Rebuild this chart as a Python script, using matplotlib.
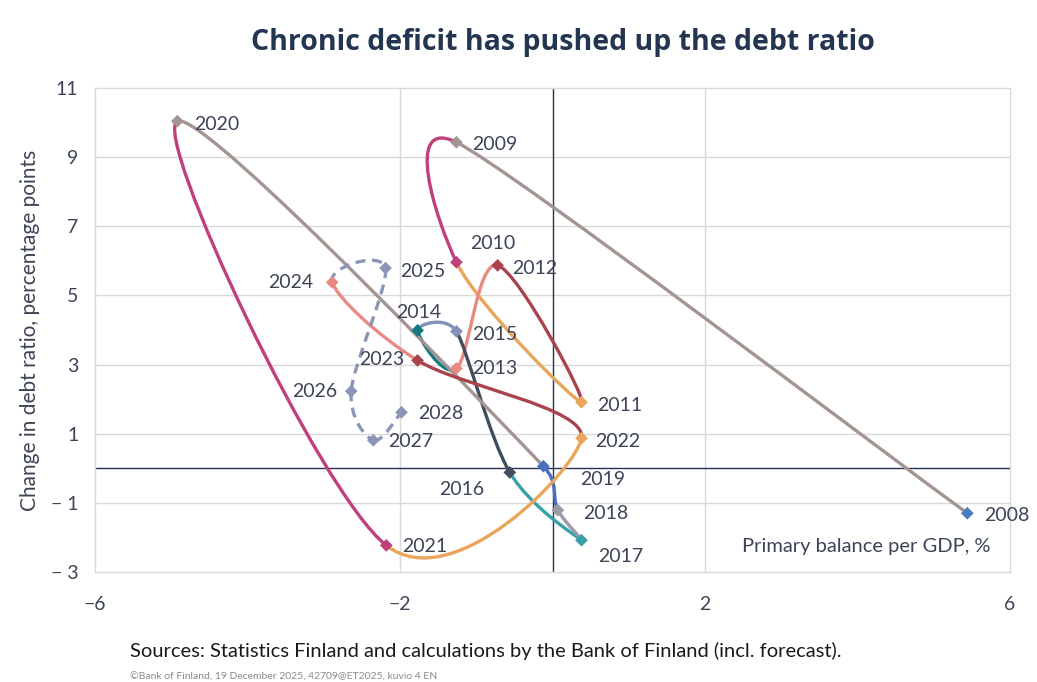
import numpy as np
import matplotlib
matplotlib.use("Agg")
import matplotlib.pyplot as plt
from matplotlib.path import Path
from matplotlib.patches import PathPatch

# data
years = list(range(2008, 2029))
primary_balance = [5.44, -1.26, -1.26, 0.38, -0.72, -1.26, -1.77, -1.26, -0.56, 0.38, 0.07,
                   -0.12, -4.92, -2.18, 0.38, -1.77, -2.89, -2.19, -2.64, -2.35, -1.98]
debt_change = [-1.30, 9.43, 5.96, 1.91, 5.87, 2.89, 3.99, 3.96, -0.12, -2.08, -1.21,
               0.06, 10.04, -2.23, 0.87, 3.12, 5.38, 5.79, 2.23, 0.81, 1.62]
first_forecast_segment = 2024  # segment starting at this year onwards is dashed

# styling
GRAY, MAG, ORA, DRED, SAL = "#a39591", "#c0407c", "#e9a55a", "#a9444f", "#e68a82"
TEAL, SLATE, DSLATE, CYAN, GSLATE, BLUE = "#137a7f", "#8390b8", "#414d5c", "#3a9fa8", "#9a9aab", "#4b6fc0"
FCAST = "#8a95b8"
seg_colors = [GRAY, MAG, ORA, DRED, SAL, TEAL, SLATE, DSLATE, CYAN, GSLATE, BLUE,
              GRAY, MAG, ORA, DRED, SAL, FCAST, FCAST, FCAST, FCAST]
marker_colors = ["#4a7cc0"] + seg_colors

# label offsets in pixels (dx, dy up) and alignment
label_pos = {
    2008: (17, -2, "left"), 2009: (16, -2, "left"), 2010: (14, 19, "left"),
    2011: (16, -3, "left"), 2012: (15, -3, "left"), 2013: (16, 0, "left"),
    2014: (-21, 18, "left"), 2015: (16, -3, "left"), 2016: (-71, -17, "left"),
    2017: (17, -16, "left"), 2018: (25, -3, "left"), 2019: (37, -13, "left"),
    2020: (17, -3, "left"), 2021: (16, -1, "left"), 2022: (14, -3, "left"),
    2023: (-13, 1, "right"), 2024: (-19, 0, "right"), 2025: (15, -3, "left"),
    2026: (-14, 0, "right"), 2027: (15, -1, "left"), 2028: (17, -1, "left"),
}

TXT = "#3c4455"
LABEL_FONT = ["Lato", "DejaVu Sans"]

fig = plt.figure(figsize=(10.37, 6.82), dpi=100)
ax = fig.add_axes([95 / 1037, 1 - 572 / 682, 915 / 1037, 484 / 682])
xmin, xmax, ymin, ymax = -6, 6, -3, 11
ax.set_xlim(xmin, xmax)
ax.set_ylim(ymin, ymax)

# pixel scale for excel-like smoothing
sx = 915 / (xmax - xmin)
sy = 484 / (ymax - ymin)
P = np.column_stack([np.array(primary_balance) * sx, np.array(debt_change) * sy])
n = len(P)
T = np.zeros_like(P)
for i in range(n):
    if i == 0:
        T[i] = (P[1] - P[0]) / 6
    elif i == n - 1:
        T[i] = (P[-1] - P[-2]) / 6
    else:
        d01 = np.linalg.norm(P[i] - P[i - 1])
        d12 = np.linalg.norm(P[i + 1] - P[i])
        d02 = np.linalg.norm(P[i + 1] - P[i - 1])
        f = 1 / 6
        if d02 > 0 and (d02 / 6 > d12 / 2 or d02 / 6 > d01 / 2):
            f = min(d01, d12) / (2 * d02)
        T[i] = f * (P[i + 1] - P[i - 1])

for i in range(n - 1):
    pts = np.array([P[i], P[i] + T[i], P[i + 1] - T[i + 1], P[i + 1]])
    pts[:, 0] /= sx
    pts[:, 1] /= sy
    path = Path(pts, [Path.MOVETO, Path.CURVE4, Path.CURVE4, Path.CURVE4])
    dashed = years[i] >= first_forecast_segment
    patch = PathPatch(path, fill=False, edgecolor=seg_colors[i], lw=2.4,
                      linestyle=(0, (3, 2)) if dashed else "-",
                      capstyle="butt" if dashed else "round", zorder=3)
    ax.add_patch(patch)

ax.scatter(primary_balance, debt_change, marker="D", s=42, c=marker_colors, zorder=4, linewidths=0)

for yr, x, y in zip(years, primary_balance, debt_change):
    dx, dy, ha = label_pos[yr]
    ax.annotate(str(yr), (x, y), xytext=(dx * 0.72, dy * 0.72), textcoords="offset points",
                ha=ha, va="center", fontsize=14, color=TXT, family=LABEL_FONT, zorder=5)

# axes, grid
ax.axhline(0, color="#26305a", lw=1.0, zorder=2)
ax.axvline(0, color="#26305a", lw=1.0, zorder=2)
for gy in [-1, 1, 3, 5, 7, 9]:
    ax.axhline(gy, color="#d9d9d9", lw=1.0, zorder=1)
for gx in [-2, 2]:
    ax.axvline(gx, color="#d9d9d9", lw=1.0, zorder=1)
for s in ax.spines.values():
    s.set_color("#d9d9d9")
    s.set_linewidth(1.0)

ax.set_xticks([-6, -2, 2, 6])
ax.set_xticklabels(["\u22126", "\u22122", "2", "6"])
ax.set_yticks([-3, -1, 1, 3, 5, 7, 9, 11])
ax.set_yticklabels(["\u2212 3", "\u2212 1", "1", "3", "5", "7", "9", "11"])
ax.tick_params(length=0, labelsize=14, colors=TXT)
ax.tick_params(axis="x", pad=17)
ax.tick_params(axis="y", pad=12)
for lab in ax.get_xticklabels() + ax.get_yticklabels():
    lab.set_family(LABEL_FONT)

ax.set_ylabel("Change in debt ratio, percentage points", fontsize=15, color=TXT,
              family=LABEL_FONT, labelpad=8)
ax.text(5.75, -2.25, "Primary balance per GDP, %", ha="right", va="center", fontsize=14.5,
        color=TXT, family=LABEL_FONT)

fig.text(0.543, 0.938, "Chronic deficit has pushed up the debt ratio", ha="center", va="center",
         fontsize=20.5, fontweight="bold", color="#243551", family=["Open Sans", "DejaVu Sans"])
fig.text(130 / 1037, 1 - 651 / 682, "Sources: Statistics Finland and calculations by the Bank of Finland (incl. forecast).",
         ha="left", va="center", fontsize=14.5, color="#1a1a1a", family=LABEL_FONT)
fig.text(130 / 1037, 1 - 677 / 682, "\u00a9Bank of Finland, 19 December 2025, 42709@ET2025, kuvio 4 EN",
         ha="left", va="center", fontsize=7.5, color="#8a8a8a", family=LABEL_FONT)

fig.savefig("out.png", dpi=100, facecolor="white")
